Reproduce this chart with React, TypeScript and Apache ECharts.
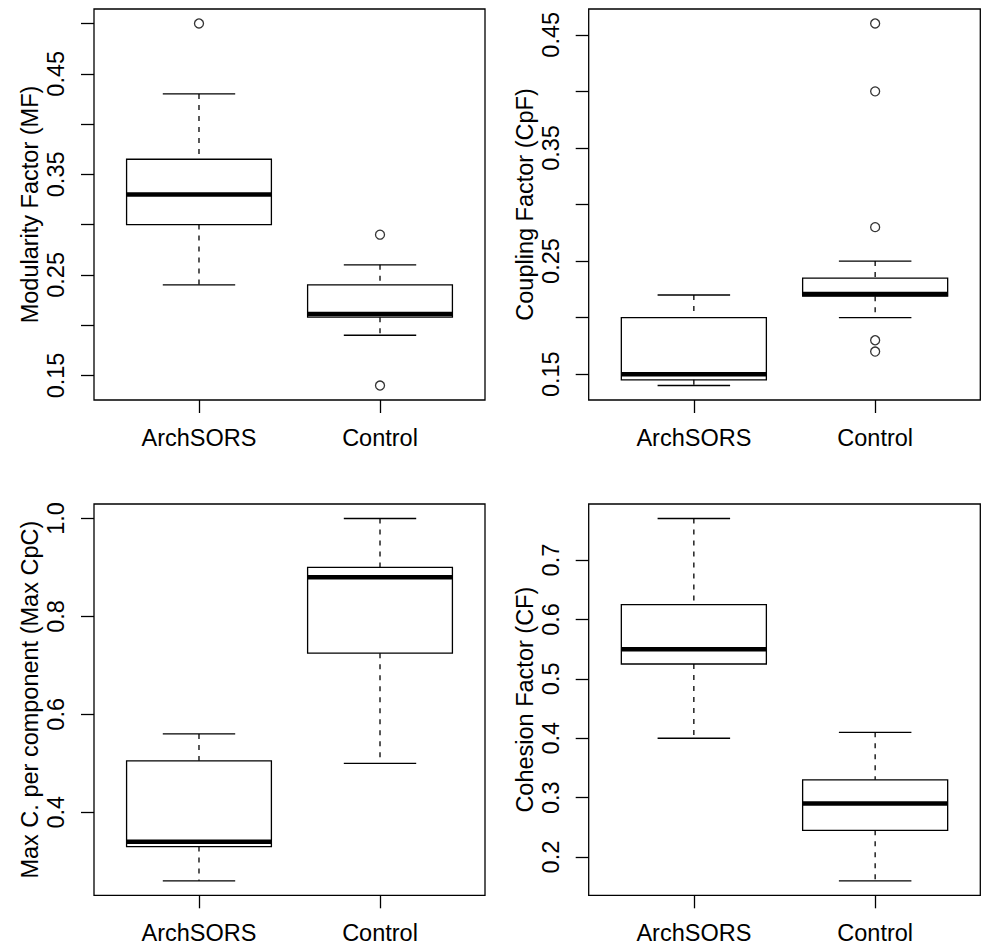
import React, { useEffect, useRef } from "react";
import * as echarts from "echarts";

const CATEGORIES = ["ArchSORS", "Control"];

// [lower whisker, Q1, median, Q3, upper whisker]
const MF_STATS = [
  [0.24, 0.30, 0.33, 0.365, 0.43],
  [0.19, 0.208, 0.211, 0.24, 0.26],
];
const MF_OUTLIERS = [[0.5], [0.29, 0.14]];
const MF_TICKS = [0.15, 0.2, 0.25, 0.3, 0.35, 0.4, 0.45, 0.5];
const MF_LABELS = [0.15, 0.25, 0.35, 0.45];

const CPF_STATS = [
  [0.14, 0.145, 0.15, 0.2, 0.22],
  [0.2, 0.219, 0.221, 0.235, 0.25],
];
const CPF_OUTLIERS = [[], [0.46, 0.4, 0.28, 0.18, 0.17]];
const CPF_TICKS = [0.15, 0.2, 0.25, 0.3, 0.35, 0.4, 0.45];
const CPF_LABELS = [0.15, 0.25, 0.35, 0.45];

const CPC_STATS = [
  [0.26, 0.33, 0.34, 0.505, 0.56],
  [0.5, 0.725, 0.88, 0.9, 1.0],
];
const CPC_OUTLIERS = [[], []];
const CPC_TICKS = [0.4, 0.6, 0.8, 1.0];
const CPC_LABELS = [0.4, 0.6, 0.8, 1.0];

const CF_STATS = [
  [0.4, 0.525, 0.55, 0.625, 0.77],
  [0.16, 0.245, 0.29, 0.33, 0.41],
];
const CF_OUTLIERS = [[], []];
const CF_TICKS = [0.2, 0.3, 0.4, 0.5, 0.6, 0.7];
const CF_LABELS = [0.2, 0.3, 0.4, 0.5, 0.6, 0.7];

const TITLES = [
  "Modularity Factor (MF)",
  "Coupling Factor (CpF)",
  "Max C. per component (Max CpC)",
  "Cohesion Factor (CF)",
];

const FONT = "'Liberation Sans', Arial, Helvetica, sans-serif";
const FS = 23.5;

const PANELS = [
  { stats: MF_STATS, outliers: MF_OUTLIERS, ticks: MF_TICKS, labels: MF_LABELS, digits: 2 },
  { stats: CPF_STATS, outliers: CPF_OUTLIERS, ticks: CPF_TICKS, labels: CPF_LABELS, digits: 2 },
  { stats: CPC_STATS, outliers: CPC_OUTLIERS, ticks: CPC_TICKS, labels: CPC_LABELS, digits: 1 },
  { stats: CF_STATS, outliers: CF_OUTLIERS, ticks: CF_TICKS, labels: CF_LABELS, digits: 1 },
];

const GRIDS = [
  { left: 94, top: 9, width: 391, height: 391 },
  { left: 588.7, top: 9, width: 391.6, height: 391 },
  { left: 94, top: 504, width: 391, height: 391.3 },
  { left: 588.7, top: 504, width: 391.6, height: 391.3 },
];

function renderBox(params: any, api: any) {
  const x = api.value(0);
  const lo = api.coord([x, api.value(1)]);
  const q1 = api.coord([x, api.value(2)]);
  const med = api.coord([x, api.value(3)]);
  const q3 = api.coord([x, api.value(4)]);
  const hi = api.coord([x, api.value(5)]);
  const w = api.size([0.8, 0])[0];
  const cx = lo[0];
  const thin = { stroke: "#000", lineWidth: 1.3, fill: "none" };
  const dash = { stroke: "#000", lineWidth: 1.3, lineDash: [5, 6] };
  return {
    type: "group",
    children: [
      { type: "line", shape: { x1: cx, y1: hi[1], x2: cx, y2: q3[1] }, style: dash },
      { type: "line", shape: { x1: cx, y1: q1[1], x2: cx, y2: lo[1] }, style: dash },
      { type: "line", shape: { x1: cx - w / 4, y1: hi[1], x2: cx + w / 4, y2: hi[1] }, style: thin },
      { type: "line", shape: { x1: cx - w / 4, y1: lo[1], x2: cx + w / 4, y2: lo[1] }, style: thin },
      {
        type: "rect",
        shape: { x: cx - w / 2, y: q3[1], width: w, height: q1[1] - q3[1] },
        style: thin,
      },
      {
        type: "line",
        shape: { x1: cx - w / 2, y1: med[1], x2: cx + w / 2, y2: med[1] },
        style: { stroke: "#000", lineWidth: 4.5 },
      },
    ],
  };
}

export default function App() {
  const ref = useRef<HTMLDivElement>(null);
  useEffect(() => {
    if (!ref.current) return;
    const chart = echarts.init(ref.current, undefined, { renderer: "svg" });
    const grid: any[] = [];
    const xAxis: any[] = [];
    const yAxis: any[] = [];
    const series: any[] = [];
    PANELS.forEach((p, i) => {
      grid.push({
        ...GRIDS[i],
        show: true,
        borderColor: "#000",
        borderWidth: 1.3,
        backgroundColor: "transparent",
      });
      const all: number[] = [];
      p.stats.forEach((s) => all.push(...s));
      p.outliers.forEach((o) => all.push(...o));
      const dmin = Math.min(...all);
      const dmax = Math.max(...all);
      const ext = (dmax - dmin) * 0.04;
      xAxis.push({
        type: "value",
        gridIndex: i,
        min: 0.42,
        max: 2.58,
        splitLine: { show: false },
        axisLine: { show: false },
        axisTick: {
          show: true,
          customValues: [1, 2],
          length: 13,
          lineStyle: { color: "#000", width: 1.3 },
        },
        axisLabel: {
          customValues: [1, 2],
          formatter: (v: number) => CATEGORIES[Math.round(v) - 1] || "",
          color: "#000",
          fontSize: FS,
          fontFamily: FONT,
          margin: 26,
        },
      });
      yAxis.push({
        type: "value",
        gridIndex: i,
        min: dmin - ext,
        max: dmax + ext,
        splitLine: { show: false },
        axisLine: { show: false },
        axisTick: {
          show: true,
          customValues: p.ticks,
          length: 13,
          lineStyle: { color: "#000", width: 1.3 },
        },
        axisLabel: {
          customValues: p.labels,
          rotate: 90,
          formatter: (v: number) => v.toFixed(p.digits),
          color: "#000",
          fontSize: FS,
          fontFamily: FONT,
          margin: 26,
        },
        name: TITLES[i],
        nameLocation: "middle",
        nameRotate: 90,
        nameGap: 52,
        nameTextStyle: { color: "#000", fontSize: FS, fontFamily: FONT },
      });
      series.push({
        type: "custom",
        xAxisIndex: i,
        yAxisIndex: i,
        renderItem: renderBox,
        data: p.stats.map((s, k) => [k + 1, ...s]),
        clip: false,
      });
      const pts: number[][] = [];
      p.outliers.forEach((o, k) => o.forEach((v) => pts.push([k + 1, v])));
      series.push({
        type: "scatter",
        xAxisIndex: i,
        yAxisIndex: i,
        data: pts,
        symbol: "circle",
        symbolSize: 9,
        itemStyle: { color: "transparent", borderColor: "#000", borderWidth: 1.3 },
        emphasis: { disabled: true },
      });
    });
    chart.setOption({
      animation: false,
      backgroundColor: "#fff",
      grid,
      xAxis,
      yAxis,
      series,
    });
    return () => chart.dispose();
  }, []);
  return (
    <div
      ref={ref}
      style={{ position: "fixed", left: 0, top: 0, width: 984, height: 946 }}
    />
  );
}
